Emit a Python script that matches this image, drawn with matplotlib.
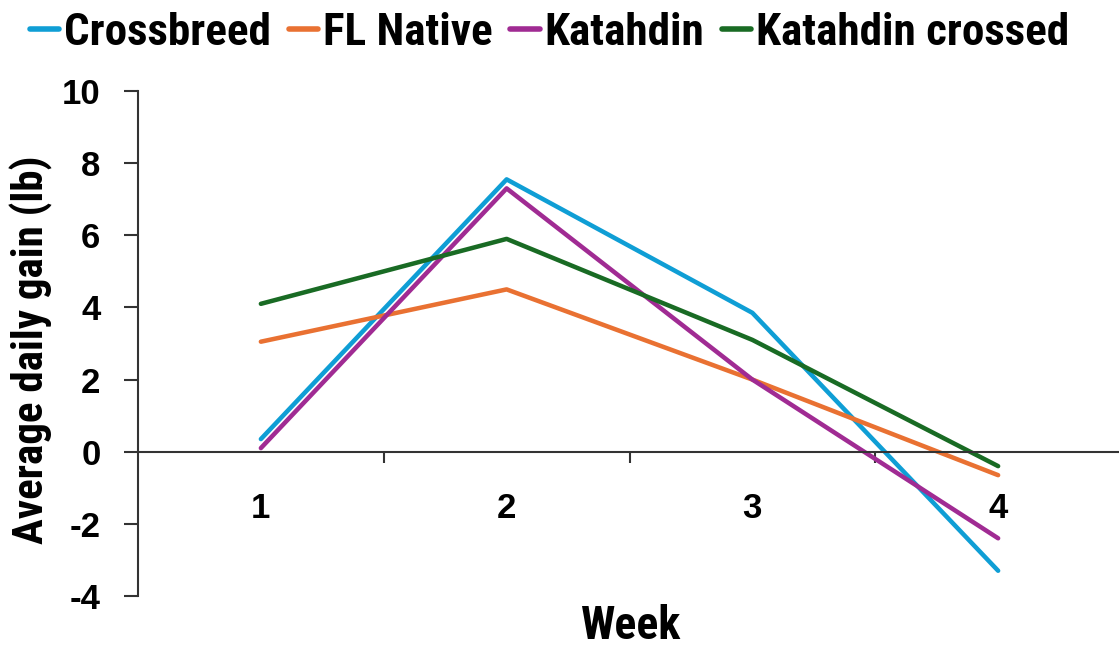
import matplotlib
matplotlib.use("Agg")
import matplotlib.pyplot as plt

weeks = [1, 2, 3, 4]
week_labels = ["1", "2", "3", "4"]
crossbreed = [0.35, 7.55, 3.85, -3.3]
fl_native = [3.05, 4.5, 2.0, -0.65]
katahdin = [0.1, 7.3, 2.0, -2.4]
katahdin_crossed = [4.1, 5.9, 3.1, -0.4]

series = [("Crossbreed", crossbreed, "#0F9ED5"),
          ("FL Native", fl_native, "#E97132"),
          ("Katahdin", katahdin, "#A02B93"),
          ("Katahdin crossed", katahdin_crossed, "#196B24")]

narrow = ["Roboto Condensed", "Liberation Sans", "DejaVu Sans"]
plt.rcParams["font.family"] = ["Liberation Sans", "DejaVu Sans"]
plt.rcParams["font.weight"] = "bold"
plt.rcParams["axes.unicode_minus"] = False

fig = plt.figure(figsize=(11.19, 6.46), dpi=100)
ax = fig.add_axes([138 / 1119, 50 / 646, 983 / 1119, 505 / 646])

for name, vals, col in series:
    ax.plot(weeks, vals, color=col, lw=3.25, label=name, solid_capstyle="round")

ax.set_xlim(0.5, 4.5)
ax.set_ylim(-4, 10)
ax.set_yticks(range(-4, 11, 2))
ax.set_xticks(weeks)
ax.set_xticklabels(week_labels)
ax.set_xticks([1.5, 2.5, 3.5], minor=True)

for s in ["top", "right"]:
    ax.spines[s].set_visible(False)
ax.spines["bottom"].set_position(("data", 0))
ax.spines["bottom"].set_color("#333333")
ax.spines["left"].set_color("#333333")
ax.spines["bottom"].set_linewidth(1.5)
ax.spines["left"].set_linewidth(1.5)

ax.tick_params(axis="y", length=10, width=1.5, color="#333333", pad=17, labelsize=25)
ax.tick_params(axis="x", which="major", length=0, pad=29, labelsize=25)
ax.tick_params(axis="x", which="minor", length=8, width=1.5, color="#333333")

ax.set_ylabel("Average daily gain (lb)", fontsize=31, family=narrow, fontweight="bold")
ax.yaxis.set_label_coords(-0.086, 0.487)
ax.set_xlabel("Week", fontsize=33, family=narrow, fontweight="bold")
ax.xaxis.set_label_coords(0.5015, -0.015)

leg = fig.legend(loc="upper center", bbox_to_anchor=(0.491, 1.045), ncol=4, frameon=False,
                 prop={"family": narrow, "size": 32.5, "weight": "bold"},
                 handlelength=0.65, handletextpad=0.1, columnspacing=0.4)
for h in leg.legend_handles:
    h.set_linewidth(4)

fig.savefig("out.png", dpi=100)
